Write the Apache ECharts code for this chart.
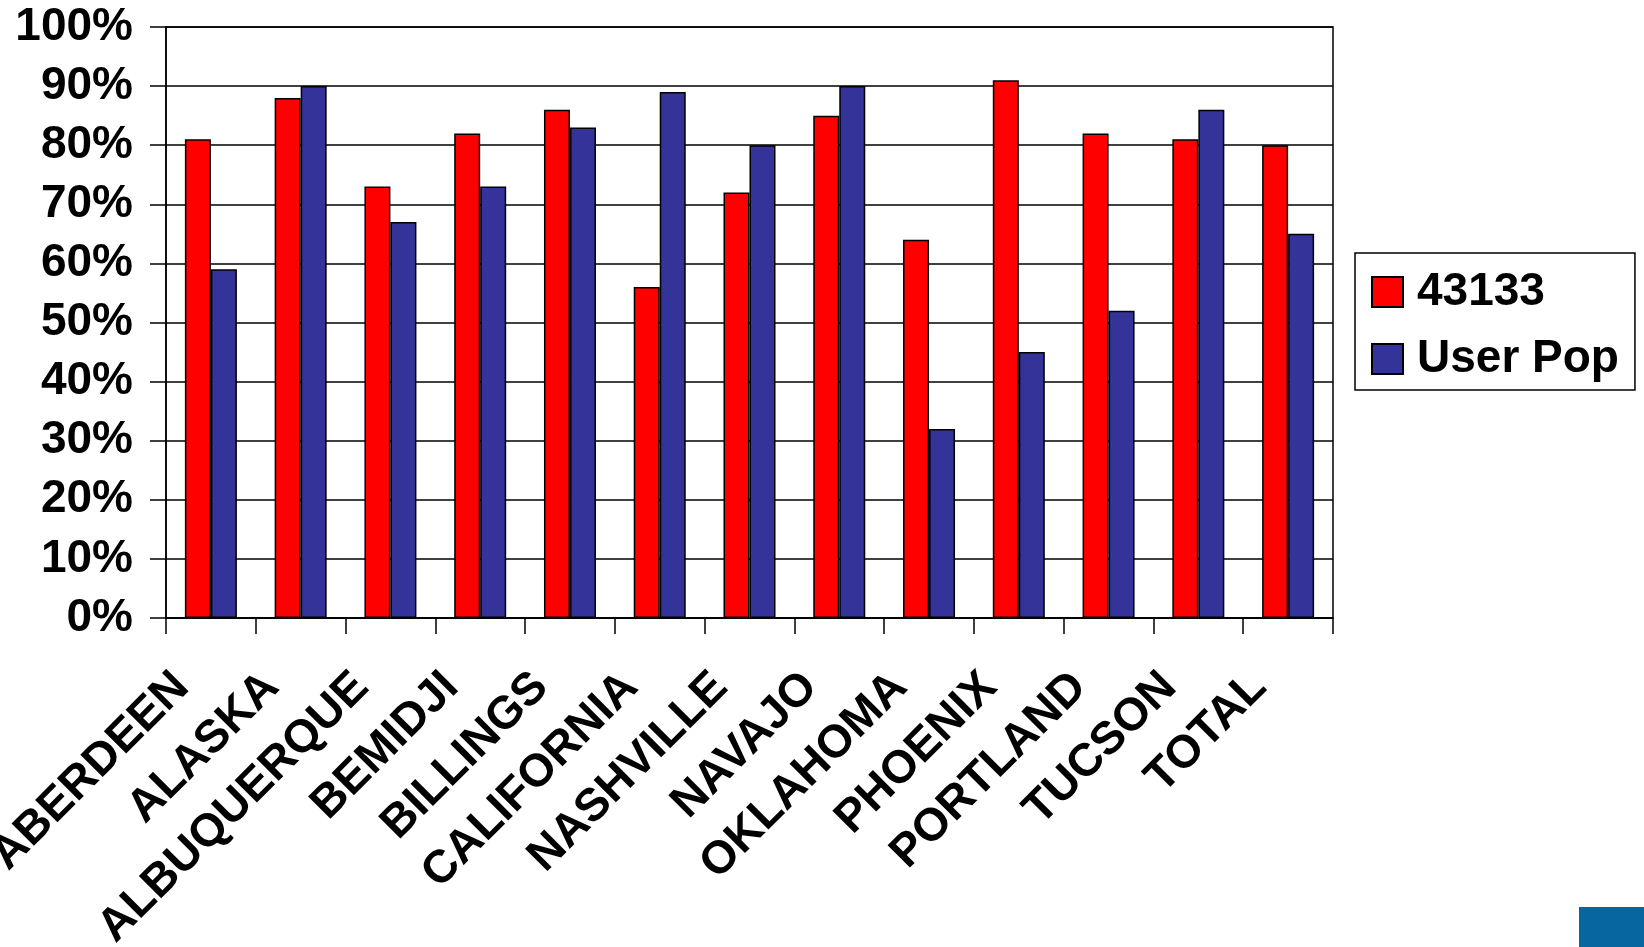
<!DOCTYPE html>
<html>
<head>
<meta charset="utf-8">
<title>43133 vs User Pop</title>
<script src="https://cdn.jsdelivr.net/npm/echarts@6/dist/echarts.min.js"></script>
<style>
  html, body { margin: 0; padding: 0; background: #fff; }
  #chart { width: 1644px; height: 947px; }
</style>
</head>
<body>
<div id="chart"></div>
<script>
// values, in percent
const categories = ['ABERDEEN', 'ALASKA', 'ALBUQUERQUE', 'BEMIDJI', 'BILLINGS', 'CALIFORNIA',
  'NASHVILLE', 'NAVAJO', 'OKLAHOMA', 'PHOENIX', 'PORTLAND', 'TUCSON', 'TOTAL'];
const seriesNames = ['43133', 'User Pop'];
const values43133 = [81, 88, 73, 82, 86, 56, 72, 85, 64, 91, 82, 81, 80];
const valuesUserPop = [59, 90, 67, 73, 83, 89, 80, 90, 32, 45, 52, 86, 65];
const yTicks = [0, 10, 20, 30, 40, 50, 60, 70, 80, 90, 100];

const fontFamily = '"Liberation Sans", Arial, sans-serif';
const chart = echarts.init(document.getElementById('chart'), null, { renderer: 'canvas' });

var option = {
  backgroundColor: '#ffffff',
  animation: false,
  textStyle: { fontFamily: fontFamily },
  grid: {
    left: 166,
    right: 311,
    top: 27,
    bottom: 329,
    outerBoundsMode: 'none',
    containLabel: false,
    show: true,
    borderColor: '#000',
    borderWidth: 1.5,
    backgroundColor: 'transparent'
  },
  legend: {
    orient: 'vertical',
    left: 1355,
    top: 253,
    padding: [16, 16, 8, 16],
    itemWidth: 31,
    itemHeight: 30,
    itemGap: 21,
    icon: 'rect',
    borderColor: '#000',
    borderWidth: 1.5,
    backgroundColor: '#fff',
    textStyle: {
      fontSize: 46,
      lineHeight: 46,
      fontWeight: 'bold',
      color: '#000',
      fontFamily: fontFamily,
      padding: [0, 0, 0, 9]
    },
    data: seriesNames
  },
  xAxis: {
    type: 'category',
    data: categories,
    boundaryGap: true,
    axisLine: { show: true, lineStyle: { color: '#000', width: 1.5 } },
    axisTick: { show: true, length: 16, alignWithLabel: false, interval: 0, lineStyle: { color: '#000', width: 1.5 } },
    axisLabel: {
      interval: 0,
      rotate: 45,
      margin: 33,
      padding: [0, 41, 0, 0],
      fontSize: 46,
      fontWeight: 'bold',
      color: '#000',
      fontFamily: fontFamily
    },
    splitLine: { show: false }
  },
  yAxis: {
    type: 'value',
    min: yTicks[0],
    max: yTicks[yTicks.length - 1],
    interval: 10,
    axisLine: { show: true, lineStyle: { color: '#000', width: 1.5 } },
    axisTick: { show: true, inside: false, length: 16, lineStyle: { color: '#000', width: 1.5 } },
    axisLabel: {
      margin: 33,
      fontSize: 46,
      fontWeight: 'bold',
      color: '#000',
      fontFamily: fontFamily,
      formatter: '{value}%'
    },
    splitLine: { show: true, lineStyle: { color: '#000', width: 1.5 } }
  },
  series: [
    {
      name: seriesNames[0],
      type: 'bar',
      barWidth: 26,
      barGap: '0%',
      itemStyle: { color: '#ff0000', borderColor: '#000', borderWidth: 1.5 },
      data: values43133
    },
    {
      name: seriesNames[1],
      type: 'bar',
      barWidth: 26,
      barGap: '0%',
      itemStyle: { color: '#333399', borderColor: '#000', borderWidth: 1.5 },
      data: valuesUserPop
    }
  ],
  // bit of slide logo peeking in at the bottom right corner
  graphic: [
    {
      type: 'rect',
      right: 0,
      bottom: 0,
      shape: { width: 65, height: 40 },
      style: { fill: '#07669f' }
    }
  ]
};

chart.setOption(option);
</script>
</body>
</html>
